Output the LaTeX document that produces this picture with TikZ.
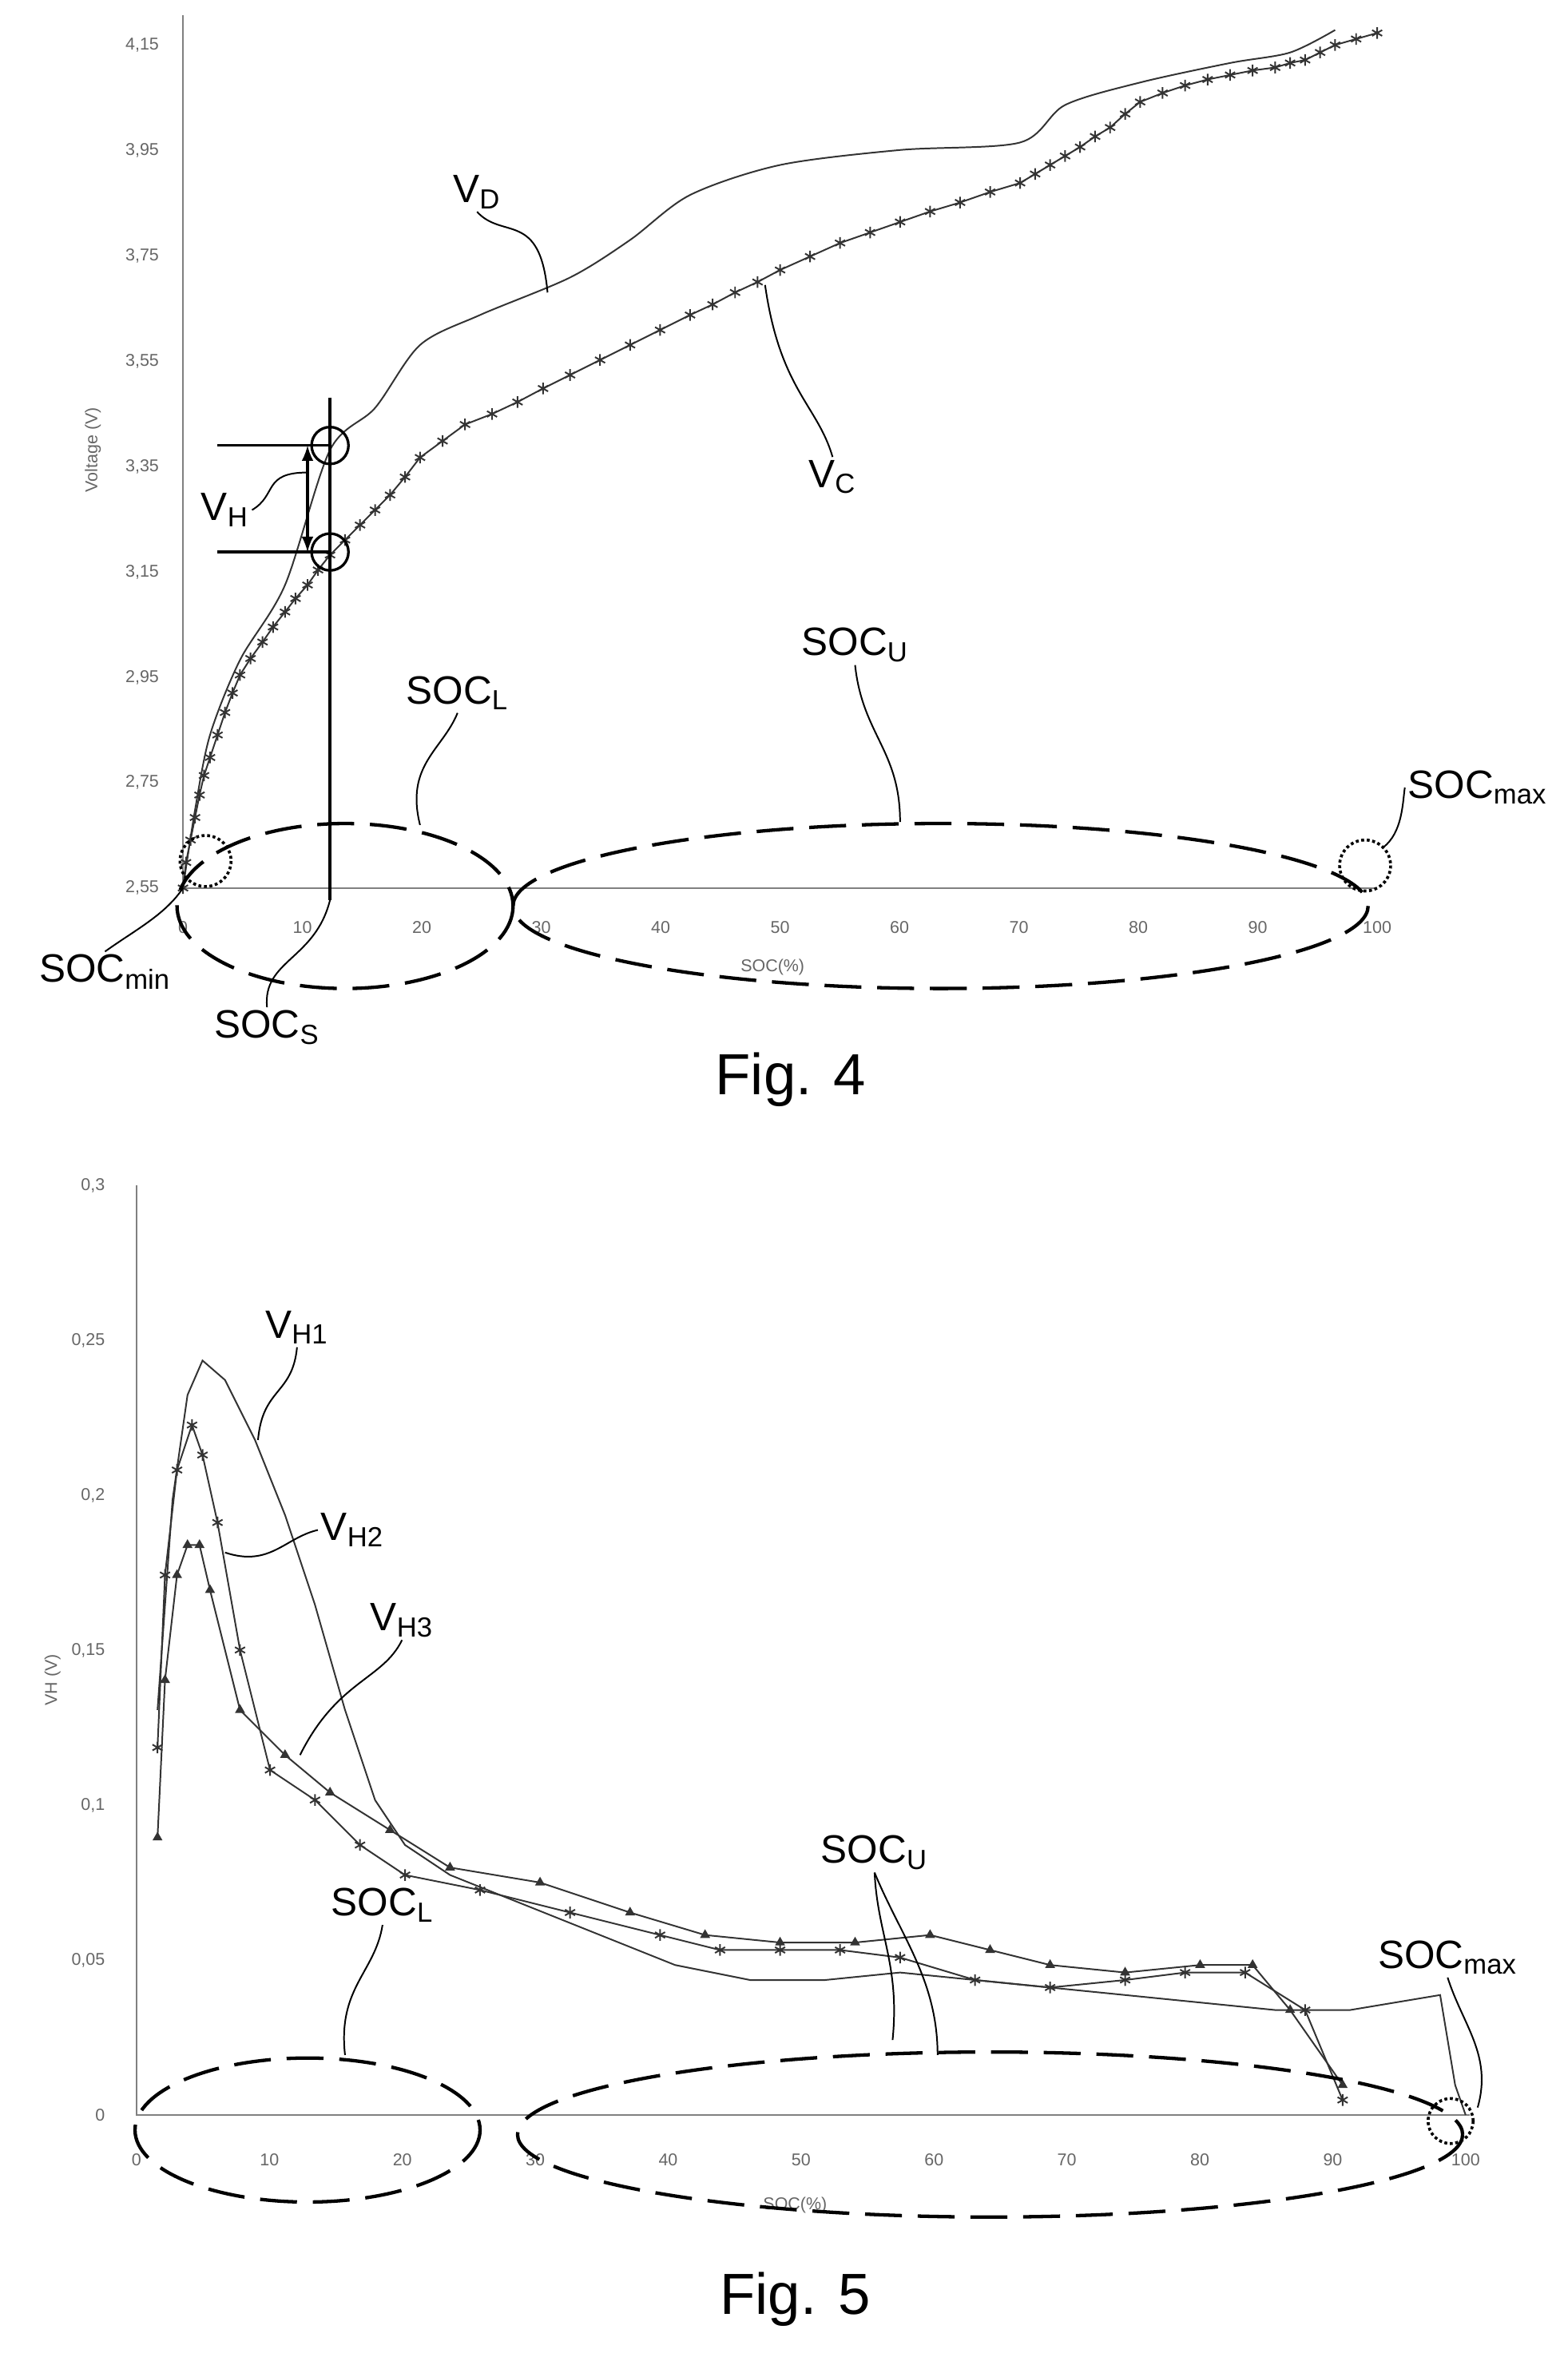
\documentclass[tikz,border=0pt]{standalone}
\usepackage{fontspec}
\setmainfont{Liberation Sans}
\usetikzlibrary{plotmarks}
\tikzset{
  lbl/.style={font=\fontsize{15}{17}\selectfont, inner sep=1pt},
  tick/.style={font=\fontsize{6.5}{7}\selectfont, text=black!60, inner sep=1pt},
  leader/.style={line width=0.6pt},
  zone/.style={dash pattern=on 14pt off 6pt, line width=1.3pt},
  endzone/.style={densely dotted, line width=1.1pt},
  axisline/.style={black!50, line width=0.6pt},
  curve/.style={black!80, line width=0.6pt}
}
\begin{document}
\begin{tikzpicture}[x=0.02cm, y=-0.02cm]
	\useasboundingbox (0,0) rectangle (1045,1574);
	% Fig. 4 axes and ticks
	\coordinate (O4) at (122,592);
	\draw[axisline] (122,10) -- (O4) -- (918,592);
	\foreach \v/\l in {0/2{,}55,1/2{,}75,2/2{,}95,3/3{,}15,4/3{,}35,5/3{,}55,6/3{,}75,7/3{,}95,8/4{,}15}
	  \node[tick, anchor=east] at (108,{592-\v*70.25}) {\l};
	\foreach \x in {0,10,...,100}
	  \node[tick] at ({122+\x*7.96},618) {\x};
	\node[tick] (xl4) at (515,645) {SOC(\%)};
	\node[tick, rotate=90] (yl4) at (62,300) {Voltage (V)};
	% Fig. 4 curves
	\draw[curve] plot[smooth] coordinates {(122,592) (130,540) (140,490) (160,440) (190,390) (220,300) (250,272) (280,230) (320,210) (380,185) (420,160) (460,130) (520,110) (600,100) (680,95) (710,70) (760,55) (820,42) (860,35) (890,20)};
	\draw[curve] plot[mark=asterisk, mark size=2.2pt] coordinates {(122,592) (124,575) (127,560) (130,545) (133,530) (136,517) (140,505) (145,490) (150,475) (155,462) (160,450) (167,439) (175,428) (182,418) (190,408) (197,399) (205,390) (212,380) (220,370) (230,360) (240,350) (250,340) (260,330) (270,318) (280,305) (295,294) (310,283) (328,276) (345,268) (362,259) (380,250) (400,240) (420,230) (440,220) (460,210) (475,203) (490,195) (505,188) (520,180) (540,171) (560,162) (580,155) (600,148) (620,141) (640,135) (660,128) (680,122) (690,116) (700,110) (710,104) (720,98) (730,91) (740,85) (750,76) (760,68) (775,62) (790,57) (805,53) (820,50) (835,47) (850,45) (860,42) (870,40) (880,35) (890,30) (904,26) (918,22)};
	% Fig. 4 hysteresis marks
	\coordinate (S1) at (220,265);
	\coordinate (S2) at (220,600);
	\draw[line width=1.3pt] (S1) -- (S2);
	\node[draw, circle, line width=1pt, minimum size=14pt, inner sep=0] (pD) at (220,297) {};
	\node[draw, circle, line width=1pt, minimum size=14pt, inner sep=0] (pC) at (220,368) {};
	\draw[line width=1pt] (145,297) -- (pD.center);
	\draw[line width=1pt] (145,368) -- (pC.center);
	\draw[line width=1pt, <->, >=latex] (205,297) -- (205,368);
	% Fig. 4 zones
	\draw[zone] (230,604) ellipse [x radius=112, y radius=55];
	\draw[zone] (627,604) ellipse [x radius=285, y radius=55];
	\draw[endzone] (137,574) circle [radius=17];
	\draw[endzone] (910,577) circle [radius=17];
	% Fig. 4 labels
	\node[lbl] (VD) at (318,128) {V\textsubscript{D}};
	\node[lbl] (VC) at (555,318) {V\textsubscript{C}};
	\node[lbl] (VH) at (150,340) {V\textsubscript{H}};
	\node[lbl] (SL4) at (305,462) {SOC\textsubscript{L}};
	\node[lbl] (SU4) at (570,430) {SOC\textsubscript{U}};
	\node[lbl] (SM4) at (985,525) {SOC\textsubscript{max}};
	\node[lbl] (Sm4) at (70,648) {SOC\textsubscript{min}};
	\node[lbl] (SS4) at (178,685) {SOC\textsubscript{S}};
	\draw[leader] (VD.south) .. controls (335,160) and (360,140) .. (365,195);
	\draw[leader] (VC.north) .. controls (545,270) and (520,260) .. (510,190);
	\draw[leader] (VH.east) .. controls (185,330) and (175,315) .. (205,315);
	\draw[leader] (SL4.south) .. controls (295,500) and (270,510) .. (280,550);
	\draw[leader] (SU4.south) .. controls (575,490) and (600,500) .. (600,548);
	\draw[leader] (SM4.west) .. controls (935,535) and (935,555) .. (922,565);
	\draw[leader] (Sm4.north) .. controls (90,620) and (110,610) .. (122,592);
	\draw[leader] (SS4.north) .. controls (175,640) and (210,640) .. (220,600);
	\node[font=\fontsize{22}{24}\selectfont] (F4) at (527,720) {Fig. 4};
	% Fig. 5 axes and ticks
	\coordinate (O5) at (91,1410);
	\draw[axisline] (91,790) -- (O5) -- (980,1410);
	\foreach \v/\l in {0/0,1/0{,}05,2/0{,}1,3/0{,}15,4/0{,}2,5/0{,}25,6/0{,}3}
	  \node[tick, anchor=east] at (72,{1410-\v*103.3}) {\l};
	\foreach \x in {0,10,...,100}
	  \node[tick] at ({91+\x*8.86},1440) {\x};
	\node[tick] (xl5) at (530,1470) {SOC(\%)};
	\node[tick, rotate=90] (yl5) at (35,1120) {VH (V)};
	% Fig. 5 curves
	\draw[curve] plot coordinates {(105,1140) (115,1000) (125,930) (135,907) (150,920) (170,960) (190,1010) (210,1070) (230,1140) (250,1200) (270,1230) (300,1250) (350,1270) (400,1290) (450,1310) (500,1320) (550,1320) (600,1315) (650,1320) (700,1325) (750,1330) (800,1335) (850,1340) (900,1340) (960,1330) (970,1390) (977,1410)};
	\draw[curve] plot[mark=asterisk, mark size=2.2pt] coordinates {(105,1165) (110,1050) (118,980) (128,950) (135,970) (145,1015) (160,1100) (180,1180) (210,1200) (240,1230) (270,1250) (320,1260) (380,1275) (440,1290) (480,1300) (520,1300) (560,1300) (600,1305) (650,1320) (700,1325) (750,1320) (790,1315) (830,1315) (870,1340) (895,1400)};
	\draw[curve] plot[mark=triangle*, mark size=1.6pt] coordinates {(105,1225) (110,1120) (118,1050) (125,1030) (133,1030) (140,1060) (160,1140) (190,1170) (220,1195) (260,1220) (300,1245) (360,1255) (420,1275) (470,1290) (520,1295) (570,1295) (620,1290) (660,1300) (700,1310) (750,1315) (800,1310) (835,1310) (860,1340) (895,1390)};
	% Fig. 5 zones
	\draw[zone] (205,1420) ellipse [x radius=115, y radius=48];
	\draw[zone] (660,1423) ellipse [x radius=315, y radius=55];
	\draw[endzone] (967,1414) circle [radius=15];
	% Fig. 5 labels
	\node[lbl] (VH1) at (198,885) {V\textsubscript{H1}};
	\node[lbl] (VH2) at (235,1020) {V\textsubscript{H2}};
	\node[lbl] (VH3) at (268,1080) {V\textsubscript{H3}};
	\node[lbl] (SU5) at (583,1235) {SOC\textsubscript{U}};
	\node[lbl] (SL5) at (255,1270) {SOC\textsubscript{L}};
	\node[lbl] (SM5) at (965,1305) {SOC\textsubscript{max}};
	\draw[leader] (VH1.south) .. controls (195,930) and (175,925) .. (172,960);
	\draw[leader] (VH2.west) .. controls (190,1025) and (180,1045) .. (150,1035);
	\draw[leader] (VH3.south) .. controls (255,1120) and (225,1120) .. (200,1170);
	\draw[leader] (SU5.south) .. controls (585,1290) and (600,1310) .. (595,1360);
	\draw[leader] (SU5.south) .. controls (600,1290) and (625,1320) .. (625,1370);
	\draw[leader] (SL5.south) .. controls (250,1315) and (225,1325) .. (230,1370);
	\draw[leader] (SM5.south) .. controls (975,1350) and (995,1370) .. (985,1405);
	\node[font=\fontsize{22}{24}\selectfont] (F5) at (530,1533) {Fig. 5};
\end{tikzpicture}
\end{document}
